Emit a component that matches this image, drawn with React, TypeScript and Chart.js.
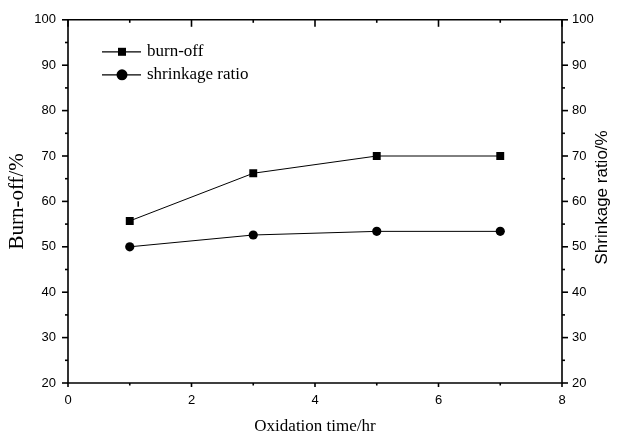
import React, { useEffect, useRef } from 'react';
import { Chart, registerables } from 'chart.js';

Chart.register(...registerables);

// ---- data ----
const oxidationTime = [1, 3, 5, 7];
const burnOff = [55.7, 66.2, 70.0, 70.0];
const shrinkageRatio = [50.0, 52.6, 53.4, 53.4];
const seriesLabels = ['burn-off', 'shrinkage ratio'];
const xTitle = 'Oxidation time/hr';
const yLeftTitle = 'Burn-off/%';
const yRightTitle = 'Shrinkage ratio/%';
const xMin = 0, xMax = 8, xStep = 2, xMinorStep = 1;
const yMin = 20, yMax = 100, yStep = 10, yMinorStep = 5;

const SANS = '"Liberation Sans", Arial, sans-serif';
const SERIF = '"Liberation Serif", "Times New Roman", serif';

const framePlugin = {
  id: 'framePlugin',
  afterDraw(chart: any) {
    const { ctx, chartArea: ca, scales } = chart;
    const xs = scales.x;
    const ys = scales.y;
    ctx.save();
    ctx.strokeStyle = '#000';
    ctx.lineWidth = 1.6;
    const line = (x1: number, y1: number, x2: number, y2: number) => {
      ctx.beginPath();
      ctx.moveTo(x1, y1);
      ctx.lineTo(x2, y2);
      ctx.stroke();
    };
    ctx.beginPath();
    ctx.rect(ca.left, ca.top, ca.right - ca.left, ca.bottom - ca.top);
    ctx.stroke();
    for (let v = yMin; v <= yMax + 1e-9; v += yMinorStep) {
      const py = ys.getPixelForValue(v);
      const major = Math.abs(v % yStep) < 1e-9;
      const len = major ? 6 : 3;
      line(ca.left - len, py, ca.left, py);
      line(ca.right, py, ca.right + len, py);
    }
    for (let v = xMin; v <= xMax + 1e-9; v += xMinorStep) {
      const px = xs.getPixelForValue(v);
      const major = Math.abs(v % xStep) < 1e-9;
      line(px, ca.bottom, px, ca.bottom + (major ? 4 : 2.5));
      line(px, ca.top, px, ca.top + (major ? 7 : 3));
    }
    // right axis title (reads bottom-to-top)
    ctx.fillStyle = '#000';
    ctx.font = '17px ' + SANS;
    ctx.textAlign = 'center';
    ctx.textBaseline = 'middle';
    ctx.save();
    ctx.translate(602, (ca.top + ca.bottom) / 2 - 4);
    ctx.rotate(-Math.PI / 2);
    ctx.fillText(yRightTitle, 0, 0);
    ctx.restore();
    // legend
    const lx = ca.left + 34;
    const ly = ca.top + 32;
    ctx.lineWidth = 1.2;
    ctx.font = '17px ' + SERIF;
    ctx.textAlign = 'left';
    seriesLabels.forEach((lab, i) => {
      const yy = ly + i * 23;
      line(lx, yy, lx + 39, yy);
      const mx = lx + 20;
      ctx.beginPath();
      if (i === 0) {
        ctx.rect(mx - 4, yy - 4, 8, 8);
      } else {
        ctx.arc(mx, yy, 5.5, 0, Math.PI * 2);
      }
      ctx.fill();
      ctx.fillText(lab, lx + 45, yy);
    });
    ctx.restore();
  },
};

export default function App() {
  const ref = useRef<HTMLCanvasElement>(null);
  useEffect(() => {
    const canvas = ref.current;
    if (!canvas) return;
    const chart = new Chart(canvas, {
      type: 'line',
      data: {
        datasets: [
          {
            label: seriesLabels[0],
            data: oxidationTime.map((t, i) => ({ x: t, y: burnOff[i] })),
            borderColor: '#000',
            backgroundColor: '#000',
            borderWidth: 1,
            pointStyle: 'rect',
            pointRadius: 5.6,
            pointBorderWidth: 0,
            yAxisID: 'y',
          },
          {
            label: seriesLabels[1],
            data: oxidationTime.map((t, i) => ({ x: t, y: shrinkageRatio[i] })),
            borderColor: '#000',
            backgroundColor: '#000',
            borderWidth: 1,
            pointStyle: 'circle',
            pointRadius: 4.6,
            pointBorderWidth: 0,
            yAxisID: 'y2',
          },
        ],
      },
      options: {
        animation: false,
        responsive: false,
        devicePixelRatio: 1,
        layout: { padding: { top: 18, left: 0, right: 0, bottom: 0 } },
        plugins: { legend: { display: false }, tooltip: { enabled: false } },
        scales: {
          x: {
            type: 'linear',
            min: xMin,
            max: xMax,
            ticks: { stepSize: xStep, color: '#000', font: { family: SANS, size: 13 }, padding: 10 },
            grid: { display: false, drawTicks: false },
            border: { display: false },
            title: { display: true, text: xTitle, color: '#000', font: { family: SERIF, size: 17 }, padding: { top: 0, bottom: 0 } },
            afterFit: (s: any) => { s.height = 54; },
          },
          y: {
            type: 'linear',
            position: 'left',
            min: yMin,
            max: yMax,
            ticks: { stepSize: yStep, color: '#000', font: { family: SANS, size: 13 }, padding: 12 },
            grid: { display: false, drawTicks: false },
            border: { display: false },
            title: { display: true, text: yLeftTitle, color: '#000', font: { family: SERIF, size: 21 }, padding: { top: 5, bottom: 0 } },
            afterFit: (s: any) => { s.width = 68; },
          },
          y2: {
            type: 'linear',
            position: 'right',
            min: yMin,
            max: yMax,
            ticks: { stepSize: yStep, color: '#000', font: { family: SANS, size: 13 }, padding: 10 },
            grid: { display: false, drawTicks: false },
            border: { display: false },
            afterFit: (s: any) => { s.width = 56; },
          },
        },
      },
      plugins: [framePlugin],
    } as any);
    return () => chart.destroy();
  }, []);
  return (
    <div style={{ position: 'absolute', left: 0, top: 0, width: 618, height: 437, background: '#fff' }}>
      <canvas ref={ref} width={618} height={437} />
    </div>
  );
}
